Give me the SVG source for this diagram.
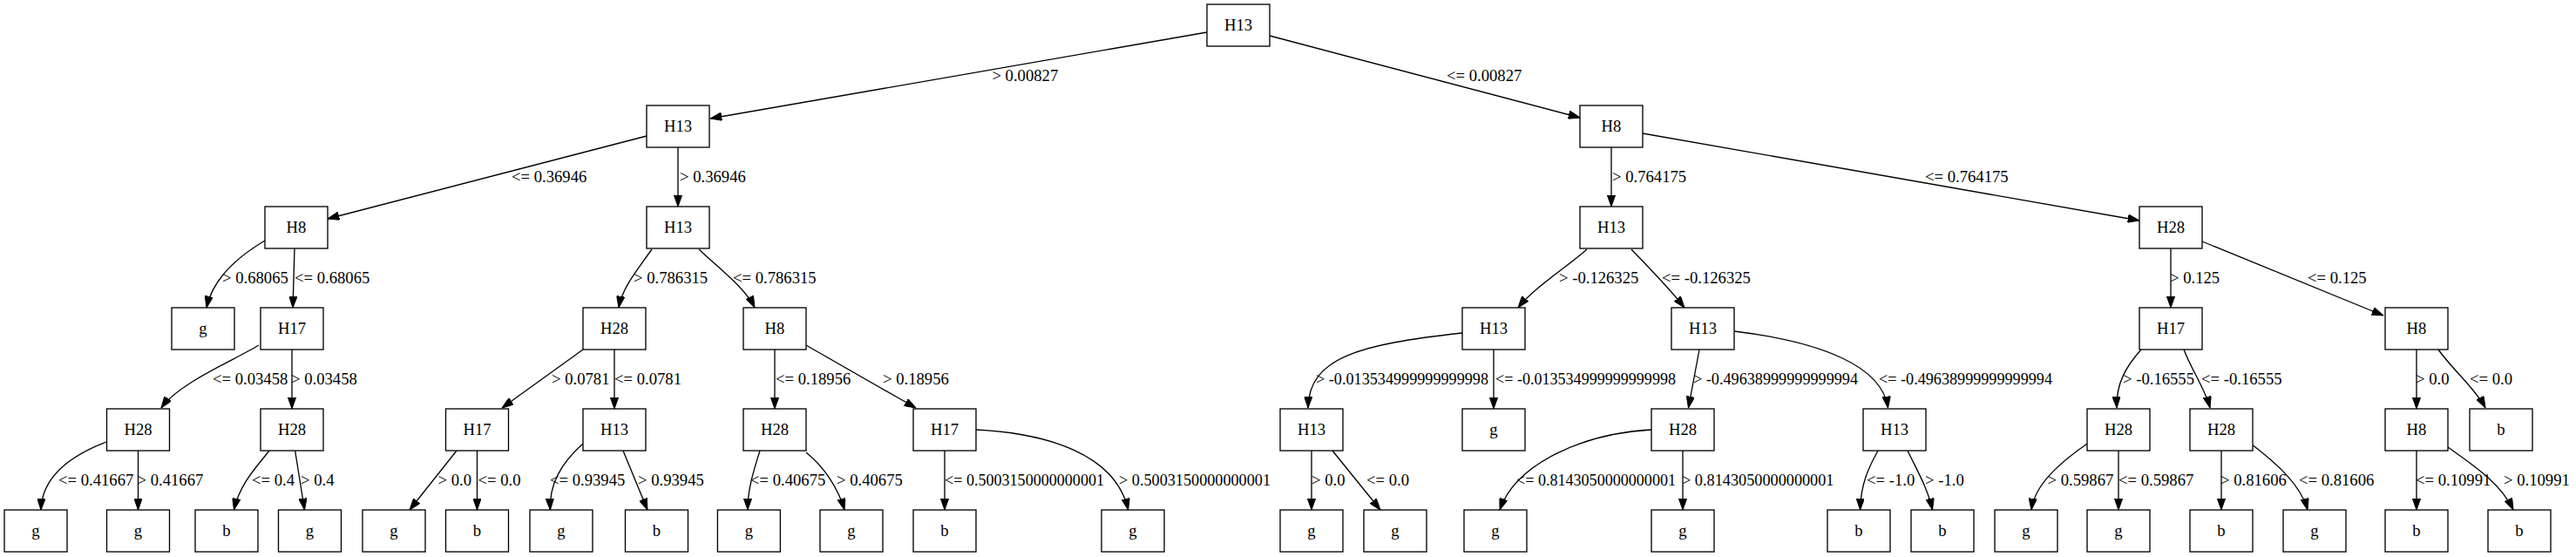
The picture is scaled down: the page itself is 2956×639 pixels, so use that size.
<svg xmlns="http://www.w3.org/2000/svg" width="2956" height="639" viewBox="0 0 2956 639">
<style>
.n rect{fill:#fff;stroke:#000;stroke-width:1.33}
.n text,.lbl text{font-family:"Liberation Serif","Times New Roman",serif;font-size:18.67px;fill:#000}
.n text{text-anchor:middle}
.e path{fill:none;stroke:#000;stroke-width:1.33;marker-end:url(#ah)}
</style>
<defs>
<marker id="ah" markerUnits="userSpaceOnUse" viewBox="0 0 13.3 9.4" refX="13.3" refY="4.7" markerWidth="13.3" markerHeight="9.4" orient="auto">
<path d="M0,0 L13.3,4.7 L0,9.4 z" fill="#000" stroke="#000" stroke-width="1"/>
</marker>
</defs>
<rect width="2956" height="639" fill="#fff"/>
<g id="edges" class="e">
<path d="M1385,37 L815,136"/>
<path d="M1457,41 L1813,135"/>
<path d="M742,156 L376,251"/>
<path d="M778,169 L778,237"/>
<path d="M304,276 C272,295 244,320 237,353"/>
<path d="M338,285 L336,353"/>
<path d="M748,286 C731,310 714,330 710,353"/>
<path d="M802,286 C825,308 855,330 866,353"/>
<path d="M1849,169 L1849,237"/>
<path d="M1885,153 L2455,253"/>
<path d="M1821,286 C1800,305 1760,330 1742,353"/>
<path d="M1872,286 C1890,305 1915,330 1933,353"/>
<path d="M2491,285 L2491,353"/>
<path d="M2527,277 L2735,362"/>
<path d="M297,396 C265,415 205,440 185,468"/>
<path d="M335,401 L335,469"/>
<path d="M669,401 L576,468"/>
<path d="M705,401 L705,469"/>
<path d="M889,401 L889,469"/>
<path d="M925,396 L1051,468"/>
<path d="M1678,382 C1560,395 1502,410 1501,468"/>
<path d="M1714,401 L1714,469"/>
<path d="M1950,401 L1937.5,468"/>
<path d="M1990,380 C2090,392 2160,420 2166.5,468"/>
<path d="M2457,401 C2440,420 2428,440 2429,468"/>
<path d="M2506,401 C2515,425 2530,445 2536,468"/>
<path d="M2773,401 L2773,469"/>
<path d="M2798,401 C2815,425 2840,445 2852,468"/>
<path d="M122,507 C75,525 48,550 47,585"/>
<path d="M158.5,517 L158.5,585"/>
<path d="M309,517 C295,535 275,555 268.5,585"/>
<path d="M338.6,517 L349.5,585"/>
<path d="M524,517 L470,585"/>
<path d="M547.5,517 L547.5,585"/>
<path d="M669,509 C645,530 630,555 631.4,585"/>
<path d="M715,517 L743,585"/>
<path d="M872,517 C865,540 858,560 858,585"/>
<path d="M925,519 C945,535 962,560 969,585"/>
<path d="M1084,517 L1084,585"/>
<path d="M1120,493 C1200,497 1280,520 1294.6,585"/>
<path d="M1505,517 L1505,585"/>
<path d="M1529,517 L1584,585"/>
<path d="M1895,493 C1820,497 1740,530 1721,585"/>
<path d="M1931,517 L1931,585"/>
<path d="M2155,517 C2145,535 2135,555 2134.6,585"/>
<path d="M2189,517 C2200,540 2212,560 2217.5,585"/>
<path d="M2395,509 C2365,530 2335,555 2331,585"/>
<path d="M2431,517 L2431,585"/>
<path d="M2549,517 L2549,585"/>
<path d="M2585.5,511 C2610,530 2640,555 2648,585"/>
<path d="M2773,517 L2773,585"/>
<path d="M2809,513 C2840,535 2870,555 2884,585"/>
</g>
<g id="edge-labels" class="lbl">
<text x="1138.4" y="93">&gt; 0.00827</text>
<text x="1660" y="93">&lt;= 0.00827</text>
<text x="587" y="209">&lt;= 0.36946</text>
<text x="780" y="209">&gt; 0.36946</text>
<text x="1850" y="209">&gt; 0.764175</text>
<text x="2209" y="209">&lt;= 0.764175</text>
<text x="255" y="325">&gt; 0.68065</text>
<text x="338" y="325">&lt;= 0.68065</text>
<text x="727" y="325">&gt; 0.786315</text>
<text x="841" y="325">&lt;= 0.786315</text>
<text x="1789" y="325">&gt; -0.126325</text>
<text x="1907" y="325">&lt;= -0.126325</text>
<text x="2490" y="325">&gt; 0.125</text>
<text x="2648" y="325">&lt;= 0.125</text>
<text x="244" y="441">&lt;= 0.03458</text>
<text x="334" y="441">&gt; 0.03458</text>
<text x="633" y="441">&gt; 0.0781</text>
<text x="705" y="441">&lt;= 0.0781</text>
<text x="890" y="441">&lt;= 0.18956</text>
<text x="1013" y="441">&gt; 0.18956</text>
<text x="1510" y="441" textLength="198" lengthAdjust="spacingAndGlyphs">&gt; -0.013534999999999998</text>
<text x="1716" y="441" textLength="207" lengthAdjust="spacingAndGlyphs">&lt;= -0.013534999999999998</text>
<text x="1943" y="441" textLength="189" lengthAdjust="spacingAndGlyphs">&gt; -0.49638999999999994</text>
<text x="2156" y="441" textLength="199" lengthAdjust="spacingAndGlyphs">&lt;= -0.49638999999999994</text>
<text x="2436" y="441">&gt; -0.16555</text>
<text x="2526" y="441">&lt;= -0.16555</text>
<text x="2772" y="441">&gt; 0.0</text>
<text x="2834" y="441">&lt;= 0.0</text>
<text x="67" y="557">&lt;= 0.41667</text>
<text x="157.5" y="557">&gt; 0.41667</text>
<text x="289" y="557">&lt;= 0.4</text>
<text x="345" y="557">&gt; 0.4</text>
<text x="502.5" y="557">&gt; 0.0</text>
<text x="548.5" y="557">&lt;= 0.0</text>
<text x="631" y="557">&lt;= 0.93945</text>
<text x="732" y="557">&gt; 0.93945</text>
<text x="861" y="557">&lt;= 0.40675</text>
<text x="960" y="557">&gt; 0.40675</text>
<text x="1084" y="557" textLength="183" lengthAdjust="spacingAndGlyphs">&lt;= 0.5003150000000001</text>
<text x="1284" y="557" textLength="174" lengthAdjust="spacingAndGlyphs">&gt; 0.5003150000000001</text>
<text x="1505" y="557">&gt; 0.0</text>
<text x="1568" y="557">&lt;= 0.0</text>
<text x="1740" y="557" textLength="183" lengthAdjust="spacingAndGlyphs">&lt;= 0.8143050000000001</text>
<text x="1930" y="557" textLength="174.5" lengthAdjust="spacingAndGlyphs">&gt; 0.8143050000000001</text>
<text x="2142" y="557">&lt;= -1.0</text>
<text x="2209" y="557">&gt; -1.0</text>
<text x="2349.5" y="557">&gt; 0.59867</text>
<text x="2431" y="557">&lt;= 0.59867</text>
<text x="2548" y="557">&gt; 0.81606</text>
<text x="2638" y="557">&lt;= 0.81606</text>
<text x="2772" y="557">&lt;= 0.10991</text>
<text x="2873" y="557">&gt; 0.10991</text>
</g>
<g id="n0" class="n"><rect x="1385" y="5" width="72" height="48"/><text x="1421" y="35">H13</text></g>
<g id="n1" class="n"><rect x="742" y="121" width="72" height="48"/><text x="778" y="151">H13</text></g>
<g id="n2" class="n"><rect x="1813" y="121" width="72" height="48"/><text x="1849" y="151">H8</text></g>
<g id="n3" class="n"><rect x="304" y="237" width="72" height="48"/><text x="340" y="267">H8</text></g>
<g id="n4" class="n"><rect x="742" y="237" width="72" height="48"/><text x="778" y="267">H13</text></g>
<g id="n5" class="n"><rect x="1813" y="237" width="72" height="48"/><text x="1849" y="267">H13</text></g>
<g id="n6" class="n"><rect x="2455" y="237" width="72" height="48"/><text x="2491" y="267">H28</text></g>
<g id="n7" class="n"><rect x="197" y="353" width="72" height="48"/><text x="233" y="383">g</text></g>
<g id="n8" class="n"><rect x="299" y="353" width="72" height="48"/><text x="335" y="383">H17</text></g>
<g id="n9" class="n"><rect x="669" y="353" width="72" height="48"/><text x="705" y="383">H28</text></g>
<g id="n10" class="n"><rect x="853" y="353" width="72" height="48"/><text x="889" y="383">H8</text></g>
<g id="n11" class="n"><rect x="1678" y="353" width="72" height="48"/><text x="1714" y="383">H13</text></g>
<g id="n12" class="n"><rect x="1918" y="353" width="72" height="48"/><text x="1954" y="383">H13</text></g>
<g id="n13" class="n"><rect x="2455" y="353" width="72" height="48"/><text x="2491" y="383">H17</text></g>
<g id="n14" class="n"><rect x="2737" y="353" width="72" height="48"/><text x="2773" y="383">H8</text></g>
<g id="n15" class="n"><rect x="122.5" y="469" width="72" height="48"/><text x="158.5" y="499">H28</text></g>
<g id="n16" class="n"><rect x="299" y="469" width="72" height="48"/><text x="335" y="499">H28</text></g>
<g id="n17" class="n"><rect x="511.5" y="469" width="72" height="48"/><text x="547.5" y="499">H17</text></g>
<g id="n18" class="n"><rect x="669" y="469" width="72" height="48"/><text x="705" y="499">H13</text></g>
<g id="n19" class="n"><rect x="853" y="469" width="72" height="48"/><text x="889" y="499">H28</text></g>
<g id="n20" class="n"><rect x="1048" y="469" width="72" height="48"/><text x="1084" y="499">H17</text></g>
<g id="n21" class="n"><rect x="1469" y="469" width="72" height="48"/><text x="1505" y="499">H13</text></g>
<g id="n22" class="n"><rect x="1678" y="469" width="72" height="48"/><text x="1714" y="499">g</text></g>
<g id="n23" class="n"><rect x="1895" y="469" width="72" height="48"/><text x="1931" y="499">H28</text></g>
<g id="n24" class="n"><rect x="2138" y="469" width="72" height="48"/><text x="2174" y="499">H13</text></g>
<g id="n25" class="n"><rect x="2395" y="469" width="72" height="48"/><text x="2431" y="499">H28</text></g>
<g id="n26" class="n"><rect x="2513" y="469" width="72" height="48"/><text x="2549" y="499">H28</text></g>
<g id="n27" class="n"><rect x="2737" y="469" width="72" height="48"/><text x="2773" y="499">H8</text></g>
<g id="n28" class="n"><rect x="2834" y="469" width="72" height="48"/><text x="2870" y="499">b</text></g>
<g id="n29" class="n"><rect x="5" y="585" width="72" height="48"/><text x="41" y="615">g</text></g>
<g id="n30" class="n"><rect x="122.5" y="585" width="72" height="48"/><text x="158.5" y="615">g</text></g>
<g id="n31" class="n"><rect x="224" y="585" width="72" height="48"/><text x="260" y="615">b</text></g>
<g id="n32" class="n"><rect x="319.5" y="585" width="72" height="48"/><text x="355.5" y="615">g</text></g>
<g id="n33" class="n"><rect x="416" y="585" width="72" height="48"/><text x="452" y="615">g</text></g>
<g id="n34" class="n"><rect x="511.5" y="585" width="72" height="48"/><text x="547.5" y="615">b</text></g>
<g id="n35" class="n"><rect x="608" y="585" width="72" height="48"/><text x="644" y="615">g</text></g>
<g id="n36" class="n"><rect x="717.5" y="585" width="72" height="48"/><text x="753.5" y="615">b</text></g>
<g id="n37" class="n"><rect x="823.4" y="585" width="72" height="48"/><text x="859.4" y="615">g</text></g>
<g id="n38" class="n"><rect x="941" y="585" width="72" height="48"/><text x="977" y="615">g</text></g>
<g id="n39" class="n"><rect x="1048" y="585" width="72" height="48"/><text x="1084" y="615">b</text></g>
<g id="n40" class="n"><rect x="1264" y="585" width="72" height="48"/><text x="1300" y="615">g</text></g>
<g id="n41" class="n"><rect x="1469" y="585" width="72" height="48"/><text x="1505" y="615">g</text></g>
<g id="n42" class="n"><rect x="1565" y="585" width="72" height="48"/><text x="1601" y="615">g</text></g>
<g id="n43" class="n"><rect x="1680" y="585" width="72" height="48"/><text x="1716" y="615">g</text></g>
<g id="n44" class="n"><rect x="1895" y="585" width="72" height="48"/><text x="1931" y="615">g</text></g>
<g id="n45" class="n"><rect x="2097" y="585" width="72" height="48"/><text x="2133" y="615">b</text></g>
<g id="n46" class="n"><rect x="2193" y="585" width="72" height="48"/><text x="2229" y="615">b</text></g>
<g id="n47" class="n"><rect x="2289" y="585" width="72" height="48"/><text x="2325" y="615">g</text></g>
<g id="n48" class="n"><rect x="2395" y="585" width="72" height="48"/><text x="2431" y="615">g</text></g>
<g id="n49" class="n"><rect x="2513" y="585" width="72" height="48"/><text x="2549" y="615">b</text></g>
<g id="n50" class="n"><rect x="2620" y="585" width="72" height="48"/><text x="2656" y="615">g</text></g>
<g id="n51" class="n"><rect x="2737" y="585" width="72" height="48"/><text x="2773" y="615">b</text></g>
<g id="n52" class="n"><rect x="2855" y="585" width="72" height="48"/><text x="2891" y="615">b</text></g>
</svg>
